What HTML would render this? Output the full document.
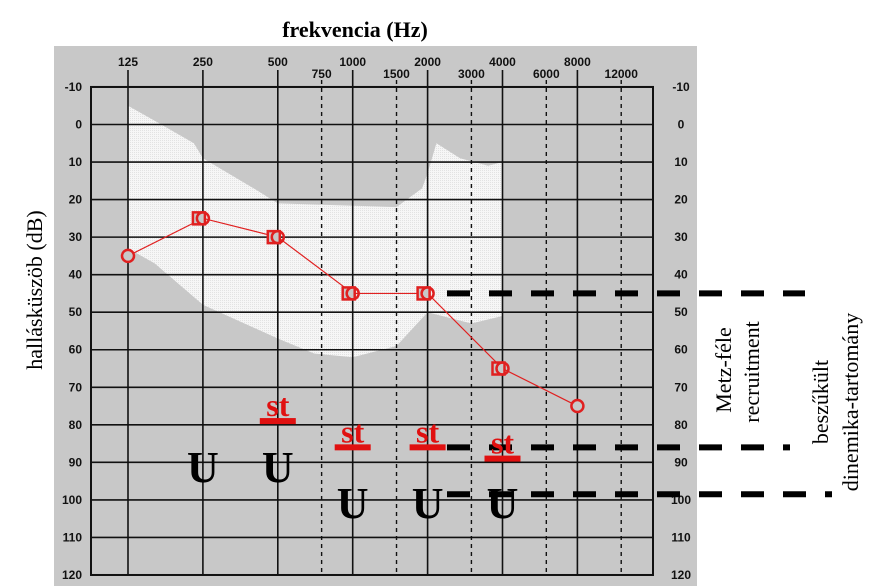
<!DOCTYPE html>
<html><head><meta charset="utf-8"><style>
body{margin:0;background:#fff;}
svg{display:block;font-family:"Liberation Serif",serif;}
.tk{font-family:"Liberation Sans",sans-serif;font-size:12px;font-weight:bold;fill:#111;}
</style></head><body>
<svg id="chart" width="875" height="588" viewBox="0 0 875 588">
<defs>
<pattern id="dots" width="2" height="2" patternUnits="userSpaceOnUse"><rect width="2" height="2" fill="#f6f6f6"/><rect width="1" height="1" fill="#e2e2e2"/></pattern>
</defs>
<rect x="54" y="46" width="643" height="540" fill="#c8c8c8"/>
<g id="g"></g>
<text x="355" y="37" text-anchor="middle" font-size="22" font-weight="bold">frekvencia (Hz)</text>
<text transform="translate(42,290) rotate(-90)" text-anchor="middle" font-size="22">hallásküszöb (dB)</text>
<text transform="translate(731,370) rotate(-90)" text-anchor="middle" font-size="22">Metz-féle</text>
<text transform="translate(759,372) rotate(-90)" text-anchor="middle" font-size="22">recruitment</text>
<text transform="translate(828,402) rotate(-90)" text-anchor="middle" font-size="22">beszűkült</text>
<text transform="translate(858,402) rotate(-90)" text-anchor="middle" font-size="22">dinemika-tartomány</text>
</svg>
<script>
const freqs=[125,250,500,1000,2000,4000,8000];
const thresholds=[35,25,30,45,45,65,75];
const squareFlags=[0,1,1,1,1,1,0];
const yTicks=[-10,0,10,20,30,40,50,60,70,80,90,100,110,120];
const midFreqs=[750,1500,3000,6000,12000];
const stFreqs=[500,1000,2000,4000];
const stLevels=[79,86,86,89];
const uFreqs=[250,500,1000,2000,4000];
const uLevels=[91,91,100.5,100.5,100.5];
const bandTop=[[125,-5],[160,-1],[230,5],[250,9],[400,17],[500,21],[1500,22],[1900,17],[2000,13],[2170,5],[2700,9],[3500,11],[4000,10]];
const bandBot=[[4000,51],[3000,53],[2000,50],[1500,59],[1000,62],[700,61],[500,57],[250,48],[160,37],[125,33]];
const NS="http://www.w3.org/2000/svg";
const X=f=>128+74.9*Math.log2(f/125);
const Y=d=>124.5+3.754*d;
const g=document.getElementById('g');
function mk(t,a,p){const e=document.createElementNS(NS,t);for(const k in a)e.setAttribute(k,a[k]);(p||g).appendChild(e);return e;}
let pts=bandTop.concat(bandBot).map(p=>X(p[0])+','+Y(p[1])).join(' ');
let band=mk('polygon',{points:pts,fill:'url(#dots)'});


yTicks.forEach(v=>{
 let l=mk('line',{x1:91,x2:653,y1:Y(v),y2:Y(v),stroke:'#111','stroke-width':1.6});
 
 
 let t=mk('text',{x:82,y:Y(v)+4,'text-anchor':'end',class:'tk'});t.textContent=v;
 
 
 let t2=mk('text',{x:681,y:Y(v)+4,'text-anchor':'middle',class:'tk'});t2.textContent=v;
 
 
});
freqs.forEach(f=>{
 let l=mk('line',{x1:X(f),x2:X(f),y1:70,y2:Y(120),stroke:'#111','stroke-width':1.6});
 
 
 let t=mk('text',{x:X(f),y:66,'text-anchor':'middle',class:'tk'});t.textContent=f;
 
 
});
midFreqs.forEach(f=>{
 let l=mk('line',{x1:X(f),x2:X(f),y1:80,y2:Y(120),stroke:'#111','stroke-width':1.4,'stroke-dasharray':'4 4'});
 
 
 let t=mk('text',{x:X(f),y:78,'text-anchor':'middle',class:'tk'});t.textContent=f;
 
 
});
let box=mk('rect',{x:91,y:Y(-10),width:562,height:Y(120)-Y(-10),fill:'none',stroke:'#111','stroke-width':2});


let ln=mk('polyline',{points:freqs.map((f,i)=>X(f)+','+Y(thresholds[i])).join(' '),fill:'none',stroke:'#e02020','stroke-width':1.2});


freqs.forEach((f,i)=>{
 const x=X(f),y=Y(thresholds[i]);
 if(squareFlags[i]){let s=mk('rect',{x:x-10,y:y-6,width:12,height:12,fill:'#c8c8c8',stroke:'#e02020','stroke-width':2.5});
  
  }
 let c=mk('circle',{cx:x,cy:y,r:6,fill:squareFlags[i]?'none':'#c8c8c8',stroke:'#e02020','stroke-width':2.5});
 
 
});
[[45,805],[86,790],[98.5,832]].forEach((d,i)=>{
 let l=mk('line',{x1:447,x2:d[1],y1:Y(d[0]),y2:Y(d[0]),stroke:'#000','stroke-width':6,'stroke-dasharray':'23 19'});
 
 
});
stFreqs.forEach((f,i)=>{
 const x=X(f),y=Y(stLevels[i]);
 let t=mk('text',{x:x,y:y-5,'text-anchor':'middle','font-size':32,'font-weight':'bold',fill:'#e01010'});t.textContent='st';
 
 
 let b=mk('rect',{x:x-18,y:y-3,width:36,height:6,fill:'#e01010'});
 
 
});
uFreqs.forEach((f,i)=>{
 let t=mk('text',{x:X(f),y:Y(uLevels[i])+16,'text-anchor':'middle','font-size':44,'font-weight':'bold',fill:'#000'});t.textContent='U';
 
 
});
</script>
</body></html>
